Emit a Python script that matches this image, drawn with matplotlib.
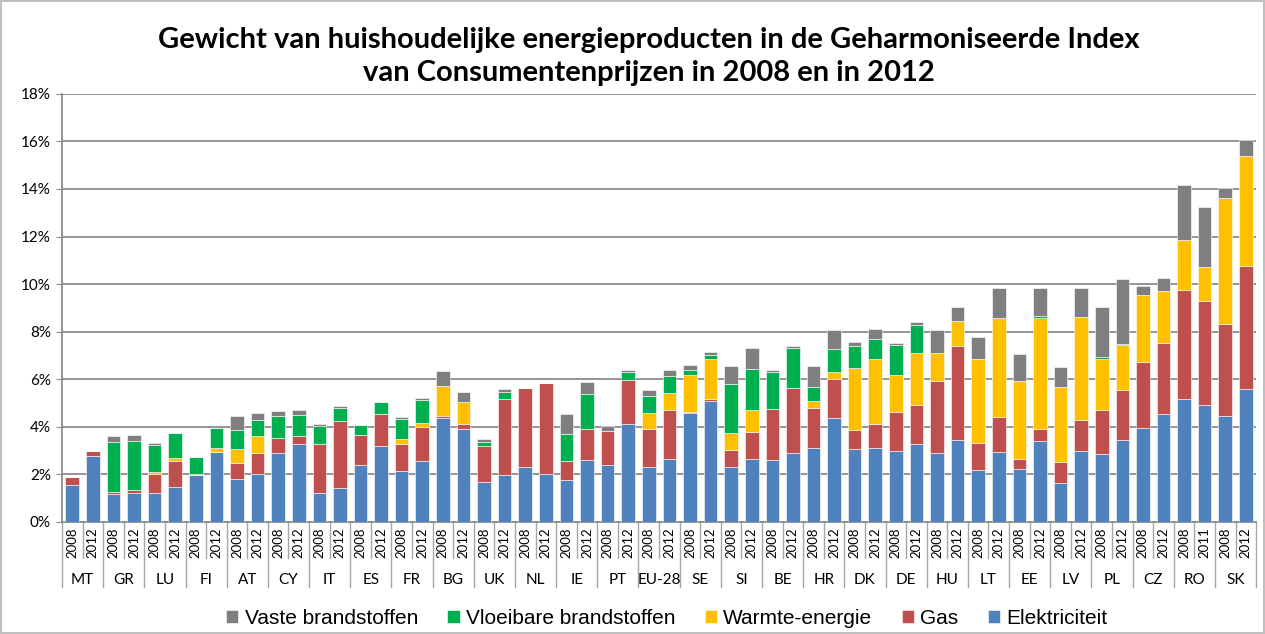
import numpy as np
import matplotlib
matplotlib.use("Agg")
import matplotlib.pyplot as plt
from matplotlib import transforms

countries = ["MT", "GR", "LU", "FI", "AT", "CY", "IT", "ES", "FR", "BG", "UK", "NL", "IE", "PT",
             "EU-28", "SE", "SI", "BE", "HR", "DK", "DE", "HU", "LT", "EE", "LV", "PL", "CZ", "RO", "SK"]
years = ["2008", "2012"] * 27 + ["2008", "2011", "2008", "2012"]

# gewichten in % (per bar, van links naar rechts)
elektriciteit = [1.54, 2.76, 1.16, 1.23, 1.20, 1.48, 1.96, 2.96, 1.79, 2.00, 2.91, 3.26, 1.22, 1.44,
                 2.39, 3.19, 2.13, 2.56, 4.37, 3.92, 1.69, 1.97, 2.30, 2.03, 1.78, 2.61, 2.41, 4.12,
                 2.32, 2.66, 4.57, 5.07, 2.32, 2.66, 2.61, 2.91, 3.10, 4.38, 3.07, 3.12, 2.97, 3.29,
                 2.91, 3.46, 2.18, 2.96, 2.21, 3.40, 1.64, 2.98, 2.87, 3.46, 3.96, 4.55, 5.17, 4.93,
                 4.47, 5.60]
gas = [0.34, 0.22, 0.10, 0.11, 0.82, 1.08, 0.00, 0.00, 0.70, 0.89, 0.62, 0.37, 2.07, 2.79,
       1.25, 1.36, 1.15, 1.42, 0.08, 0.18, 1.50, 3.20, 3.34, 3.80, 0.78, 1.30, 1.43, 1.85,
       1.60, 2.03, 0.05, 0.08, 0.69, 1.12, 2.15, 2.73, 1.70, 1.63, 0.80, 0.99, 1.65, 1.64,
       3.01, 3.93, 1.14, 1.45, 0.42, 0.51, 0.89, 1.31, 1.82, 2.07, 2.76, 2.99, 4.58, 4.38,
       3.85, 5.16]
warmte = [0.00, 0.00, 0.00, 0.00, 0.08, 0.13, 0.06, 0.16, 0.59, 0.71, 0.00, 0.00, 0.00, 0.00,
          0.00, 0.00, 0.19, 0.18, 1.26, 0.93, 0.00, 0.00, 0.00, 0.00, 0.00, 0.00, 0.00, 0.00,
          0.67, 0.74, 1.56, 1.69, 0.72, 0.94, 0.00, 0.00, 0.28, 0.28, 2.60, 2.73, 1.57, 2.17,
          1.18, 1.08, 3.54, 4.16, 3.31, 4.66, 3.13, 4.32, 2.17, 1.89, 2.83, 2.15, 2.10, 1.40,
          5.28, 4.62]
vloeibaar = [0.00, 0.00, 2.10, 2.06, 1.15, 1.05, 0.71, 0.84, 0.80, 0.70, 0.91, 0.88, 0.74, 0.57,
             0.45, 0.51, 0.86, 0.98, 0.00, 0.00, 0.19, 0.29, 0.00, 0.00, 1.14, 1.48, 0.00, 0.33,
             0.72, 0.70, 0.22, 0.16, 2.08, 1.71, 1.56, 1.68, 0.58, 0.99, 0.94, 0.84, 1.25, 1.18,
             0.00, 0.00, 0.00, 0.00, 0.00, 0.09, 0.00, 0.00, 0.06, 0.06, 0.00, 0.00, 0.00, 0.00,
             0.00, 0.00]
vast = [0.00, 0.00, 0.25, 0.26, 0.06, 0.02, 0.00, 0.01, 0.57, 0.29, 0.21, 0.21, 0.07, 0.06,
        0.00, 0.00, 0.07, 0.08, 0.63, 0.42, 0.09, 0.11, 0.00, 0.00, 0.84, 0.51, 0.21, 0.11,
        0.24, 0.28, 0.18, 0.13, 0.73, 0.88, 0.08, 0.06, 0.89, 0.79, 0.14, 0.43, 0.09, 0.12,
        0.98, 0.58, 0.91, 1.25, 1.12, 1.19, 0.84, 1.24, 2.11, 2.73, 0.38, 0.56, 2.32, 2.55,
        0.42, 0.70]

series = [
    ("Elektriciteit", elektriciteit, "#4F81BD"),
    ("Gas", gas, "#C0504D"),
    ("Warmte-energie", warmte, "#FFC000"),
    ("Vloeibare brandstoffen", vloeibaar, "#00B050"),
    ("Vaste brandstoffen", vast, "#7F7F7F"),
]

font = "Lato"
fig = plt.figure(figsize=(12.65, 6.34), dpi=100)
fig.patch.set_edgecolor("#BFBFBF")
fig.patch.set_linewidth(1.5)
ax = fig.add_axes([0.049, 0.1767, 0.944, 0.6753])

x = np.arange(len(years))
bottom = np.zeros(len(years))
handles = {}
for name, vals, col in series:
    vals = np.array(vals)
    b = ax.bar(x, vals, 0.66, bottom=bottom, color=col, edgecolor="white", linewidth=0.4,
               label=name, zorder=3)
    handles[name] = b
    bottom += vals

ax.set_xlim(-0.5, len(years) - 0.5)
ax.set_ylim(0, 18)
ax.set_yticks(np.arange(0, 19, 2))
ax.set_yticklabels([f"{v}%" for v in range(0, 19, 2)], fontsize=11, family=font)
ax.yaxis.grid(True, color="#8C8C8C", linewidth=1.3, zorder=0)
ax.tick_params(axis="y", length=4, color="#8C8C8C", pad=4)
ax.set_xticks([])
for s in ["top", "right"]:
    ax.spines[s].set_visible(False)
for s in ["left", "bottom"]:
    ax.spines[s].set_color("#8C8C8C")
    ax.spines[s].set_linewidth(1.3)

# x-as: jaren en landen
tr = transforms.blended_transform_factory(ax.transData, fig.transFigure)
y_axis = 0.1767
for i, yr in enumerate(years):
    ax.text(i, y_axis - 0.008, yr, rotation=90, ha="center", va="top", fontsize=9.5,
            family=font, transform=tr)
for i in range(len(years) + 1):
    xs = i - 0.5
    low = 0.074 if i % 2 == 0 else 0.12
    ax.plot([xs, xs], [y_axis, low], color="#A6A6A6", lw=1, transform=tr, clip_on=False)
for k, c in enumerate(countries):
    ax.text(2 * k + 0.5, 0.085, c, ha="center", va="center", fontsize=11, family=font,
            transform=tr)

fig.suptitle("Gewicht van huishoudelijke energieproducten in de Geharmoniseerde Index\n"
             "van Consumentenprijzen in 2008 en in 2012",
             x=0.513, y=0.957, fontsize=21, fontweight="bold", family=font, linespacing=1.3)

order = ["Vaste brandstoffen", "Vloeibare brandstoffen", "Warmte-energie", "Gas", "Elektriciteit"]
fig.legend([handles[n] for n in order], order, loc="center", bbox_to_anchor=(0.527, 0.025),
           ncol=5, frameon=False, prop={"family": "Liberation Sans", "size": 15},
           handlelength=0.6, handleheight=0.6, handletextpad=0.3, columnspacing=1.4)

fig.savefig("out.png", dpi=100)
